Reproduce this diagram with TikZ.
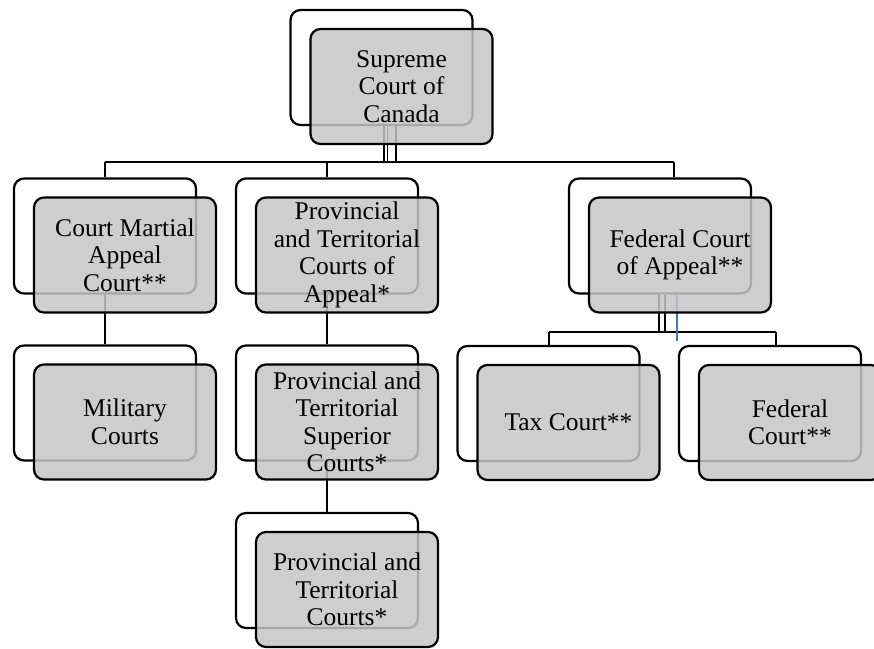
\documentclass[tikz,border=0pt]{standalone}
\usepackage{fontspec}
\setmainfont{Liberation Serif}
\definecolor{boxgray}{RGB}{198,198,198}
\definecolor{stray}{RGB}{68,114,196}

\begin{document}
\begin{tikzpicture}[x=1pt,y=-1pt]
	\tikzstyle{back}=[draw=black, line width=2.2pt, rounded corners=10pt, minimum width=182pt, minimum height=115pt, inner sep=0pt]
	\tikzstyle{front}=[back, fill=boxgray, fill opacity=0.85, text opacity=1, align=center, font=\fontsize{25.5}{27.5}\selectfont]
	\tikzstyle{link}=[black, line width=2pt]
	\tikzstyle{thinlink}=[black, line width=1.3pt]
	\useasboundingbox (0,0) rectangle (874,648);
	\node [back] (scc-b) at (381.5,67.5) {};
	\node [back] (cmac-b) at (105,236) {};
	\node [back] (pca-b) at (327,236) {};
	\node [back] (fca-b) at (660,236) {};
	\node [back] (mil-b) at (105,403) {};
	\node [back] (psc-b) at (327,403) {};
	\node [back] (pc-b) at (327,570.5) {};
	\node [back] (tax-b) at (548.5,403.5) {};
	\node [back] (fc-b) at (770,403.5) {};
	\coordinate (top-l) at (105,162);
	\coordinate (top-r) at (674,162);
	\coordinate (sub-l) at (548.5,332);
	\coordinate (sub-r) at (776,332);
	\draw [link] (top-l) -- (top-r);
	\draw [link, line width=2.6pt] ([xshift=2.5pt]scc-b.south) -- ([xshift=2.5pt]scc-b.south |- top-l);
	\draw [thinlink] ([xshift=6pt]scc-b.south) -- ([xshift=6pt]scc-b.south |- top-l);
	\draw [thinlink] ([xshift=14.5pt]scc-b.south) -- ([xshift=14.5pt]scc-b.south |- top-l);
	\draw [link] (top-l) -- (cmac-b.north);
	\draw [link] (pca-b.north |- top-l) -- (pca-b.north);
	\draw [link] (top-r) -- (top-r |- fca-b.north);
	\draw [link] (cmac-b.south) -- (mil-b.north);
	\draw [link] (pca-b.south) -- (psc-b.north);
	\draw [link] (psc-b.south) -- (pc-b.north);
	\draw [link] (sub-l) -- (sub-r);
	\draw [link, line width=2.6pt] ([xshift=-1pt]fca-b.south) -- ([xshift=-1pt]fca-b.south |- sub-l);
	\draw [thinlink] ([xshift=5pt]fca-b.south) -- ([xshift=5pt]fca-b.south |- sub-l);
	\draw [stray, line width=1.1pt] ([xshift=17pt]fca-b.south) -- ++(0,46);
	\draw [link] (sub-l) -- (tax-b.north);
	\draw [link] (sub-r) -- (sub-r |- fc-b.north);
	\node [front] (scc) at (401.5,86.5) {Supreme\\Court of\\Canada};
	\node [front] (cmac) at (125,255) {Court Martial\\Appeal\\Court**};
	\node [front] (pca) at (347,255) {Provincial\\and Territorial\\Courts of\\Appeal*};
	\node [front] (fca) at (680,255) {Federal Court\\of Appeal**};
	\node [front] (mil) at (125,422) {Military\\Courts};
	\node [front] (psc) at (347,422) {Provincial and\\Territorial\\Superior\\Courts*};
	\node [front] (pc) at (347,589.5) {Provincial and\\Territorial\\Courts*};
	\node [front] (tax) at (568.5,422.5) {Tax Court**};
	\node [front] (fc) at (790,422.5) {Federal\\Court**};
\end{tikzpicture}
\end{document}
